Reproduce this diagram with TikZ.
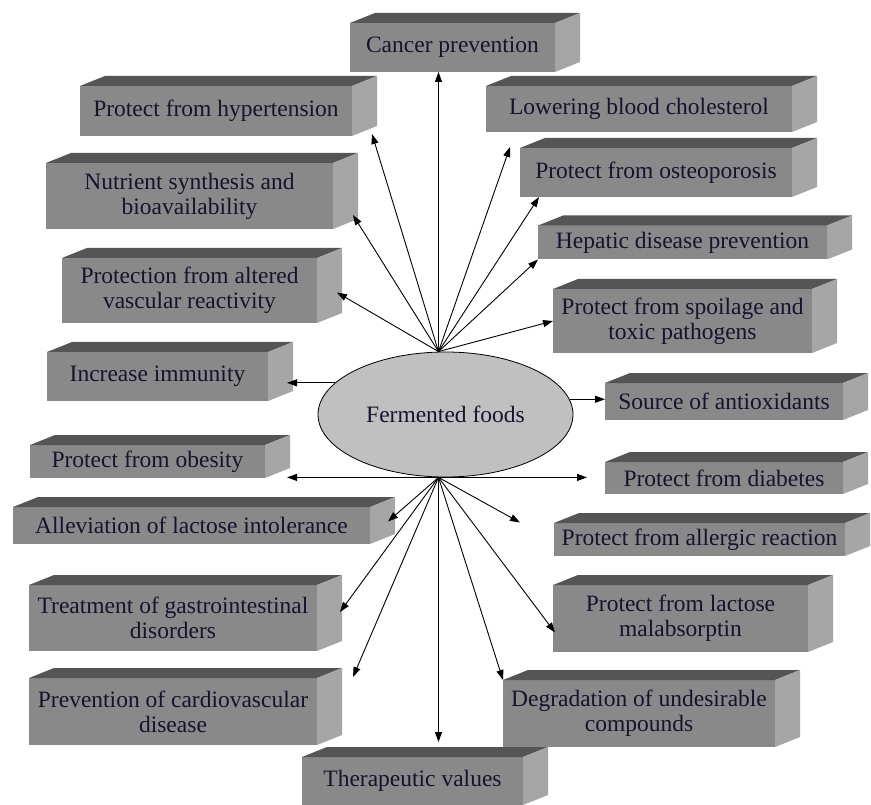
\documentclass[tikz,border=0pt]{standalone}
\usepackage{fontspec}
\setmainfont{Liberation Serif}
\usetikzlibrary{shapes,arrows.meta,positioning}
\definecolor{frontgray}{RGB}{137,137,137}
\definecolor{topgray}{RGB}{85,85,85}
\definecolor{sidegray}{RGB}{166,166,166}
\definecolor{ellgray}{RGB}{192,192,192}
\definecolor{inkc}{RGB}{20,20,45}

\begin{document}
\begin{tikzpicture}[x=1pt,y=-1pt,
  slab/.style={fill=frontgray,text=inkc,align=center,inner sep=0pt,outer sep=0pt,
    font=\fontsize{23.5}{25}\selectfont},
  arr/.style={-{Triangle[length=10pt,width=7pt]},line width=0.9pt}]
\useasboundingbox (0,0) rectangle (871,805);
% centre
\node[ellipse,draw,line width=0.8pt,fill=ellgray,minimum width=255,minimum height=125,
  inner sep=0pt,text=inkc,font=\fontsize{23.5}{25}\selectfont] (ff) at (445.5,414.5) {Fermented foods};
% boxes
\node[slab,minimum width=205,minimum height=49] (cancer) at (452.5,47.5) {Cancer prevention};
\node[slab,minimum width=272,minimum height=50] (hyper) at (216,111) {Protect from hypertension};
\node[slab,minimum width=306,minimum height=46] (lower) at (639,109) {Lowering blood cholesterol};
\node[slab,minimum width=287,minimum height=66] (nutri) at (189.5,196) {Nutrient synthesis and\\bioavailability};
\node[slab,minimum width=272,minimum height=49] (osteo) at (656,172.5) {Protect from osteoporosis};
\node[slab,minimum width=255,minimum height=65] (vasc) at (189.5,290.5) {Protection from altered\\vascular reactivity};
\node[slab,minimum width=289,minimum height=34] (hepat) at (682.5,242.5) {Hepatic disease prevention};
\node[slab,minimum width=259,minimum height=64] (spoil) at (682.5,321) {Protect from spoilage and\\toxic pathogens};
\node[slab,minimum width=221,minimum height=49] (immun) at (157.5,376.5) {Increase immunity};
\node[slab,minimum width=238,minimum height=37] (antiox) at (724,401.5) {Source of antioxidants};
\node[slab,minimum width=235,minimum height=33] (obes) at (147.5,461.5) {Protect from obesity};
\node[slab,minimum width=238,minimum height=32] (diab) at (724,478) {Protect from diabetes};
\node[slab,minimum width=357,minimum height=37] (allev) at (191.5,525.5) {Alleviation of lactose intolerance};
\node[slab,minimum width=291,minimum height=33] (allerg) at (699.5,539.5) {Protect from allergic reaction};
\node[slab,minimum width=288,minimum height=66] (gastro) at (173,618) {Treatment of gastrointestinal\\disorders};
\node[slab,minimum width=255,minimum height=67] (malab) at (680.5,618.5) {Protect from lactose\\malabsorptin};
\node[slab,minimum width=288,minimum height=67] (cardio) at (173,711.5) {Prevention of cardiovascular\\disease};
\node[slab,minimum width=272,minimum height=67] (degrad) at (639,713.5) {Degradation of undesirable\\compounds};
\node[slab,minimum width=221,minimum height=48] (thera) at (412.5,781) {Therapeutic values};
% 3d faces
\foreach \n in {cancer,hyper,lower,nutri,osteo,vasc,hepat,spoil,immun,antiox,
                obes,diab,allev,allerg,gastro,malab,cardio,degrad,thera} {
  \fill[topgray] (\n.north west) -- ++(25,-10) -- ([shift={(25,-10)}]\n.north east) -- (\n.north east) -- cycle;
  \fill[sidegray] (\n.north east) -- ++(25,-10) -- ([shift={(25,-10)}]\n.south east) -- (\n.south east) -- cycle;
}
% hubs
\coordinate (up) at ([xshift=-7]ff.north);
\coordinate (down) at ([xshift=-7]ff.south);
% upper fan
\draw[arr] (up) -- (up |- cancer.south);
\draw[arr] (up) -- ([shift={(20,-2)}]hyper.south east);
\draw[arr] (up) -- ([shift={(20,-14)}]nutri.south east);
\draw[arr] (up) -- ([shift={(20,2)}]vasc.east);
\draw[arr] (up) -- ([shift={(24,15)}]lower.south west);
\draw[arr] (up) -- ([xshift=19]osteo.south west);
\draw[arr] (up) -- (hepat.south west);
\draw[arr] (up) -- (spoil.west);
% sides
\draw[arr] (ff.164) -- ([xshift=19]immun.east |- ff.164);
\draw[arr] (ff.7) -- (ff.7 -| antiox.west);
\draw[arr] (down) -- ([xshift=22]obes.east |- down);
\draw[arr] (down) -- ([xshift=-18]diab.west |- down);
% lower fan
\draw[arr] (down) -- ([shift={(18,-4)}]allev.east);
\draw[arr] (down) -- ([shift={(-34,-17)}]allerg.west);
\draw[arr] (down) -- ([shift={(23,-6)}]gastro.east);
\draw[arr] (down) -- ([shift={(36,-1)}]cardio.north east);
\draw[arr] (down) -- ([yshift=15]down |- thera.north);
\draw[arr] (down) -- (degrad.north west);
\draw[arr] (down) -- ([shift={(2,14)}]malab.west);
\end{tikzpicture}
\end{document}
